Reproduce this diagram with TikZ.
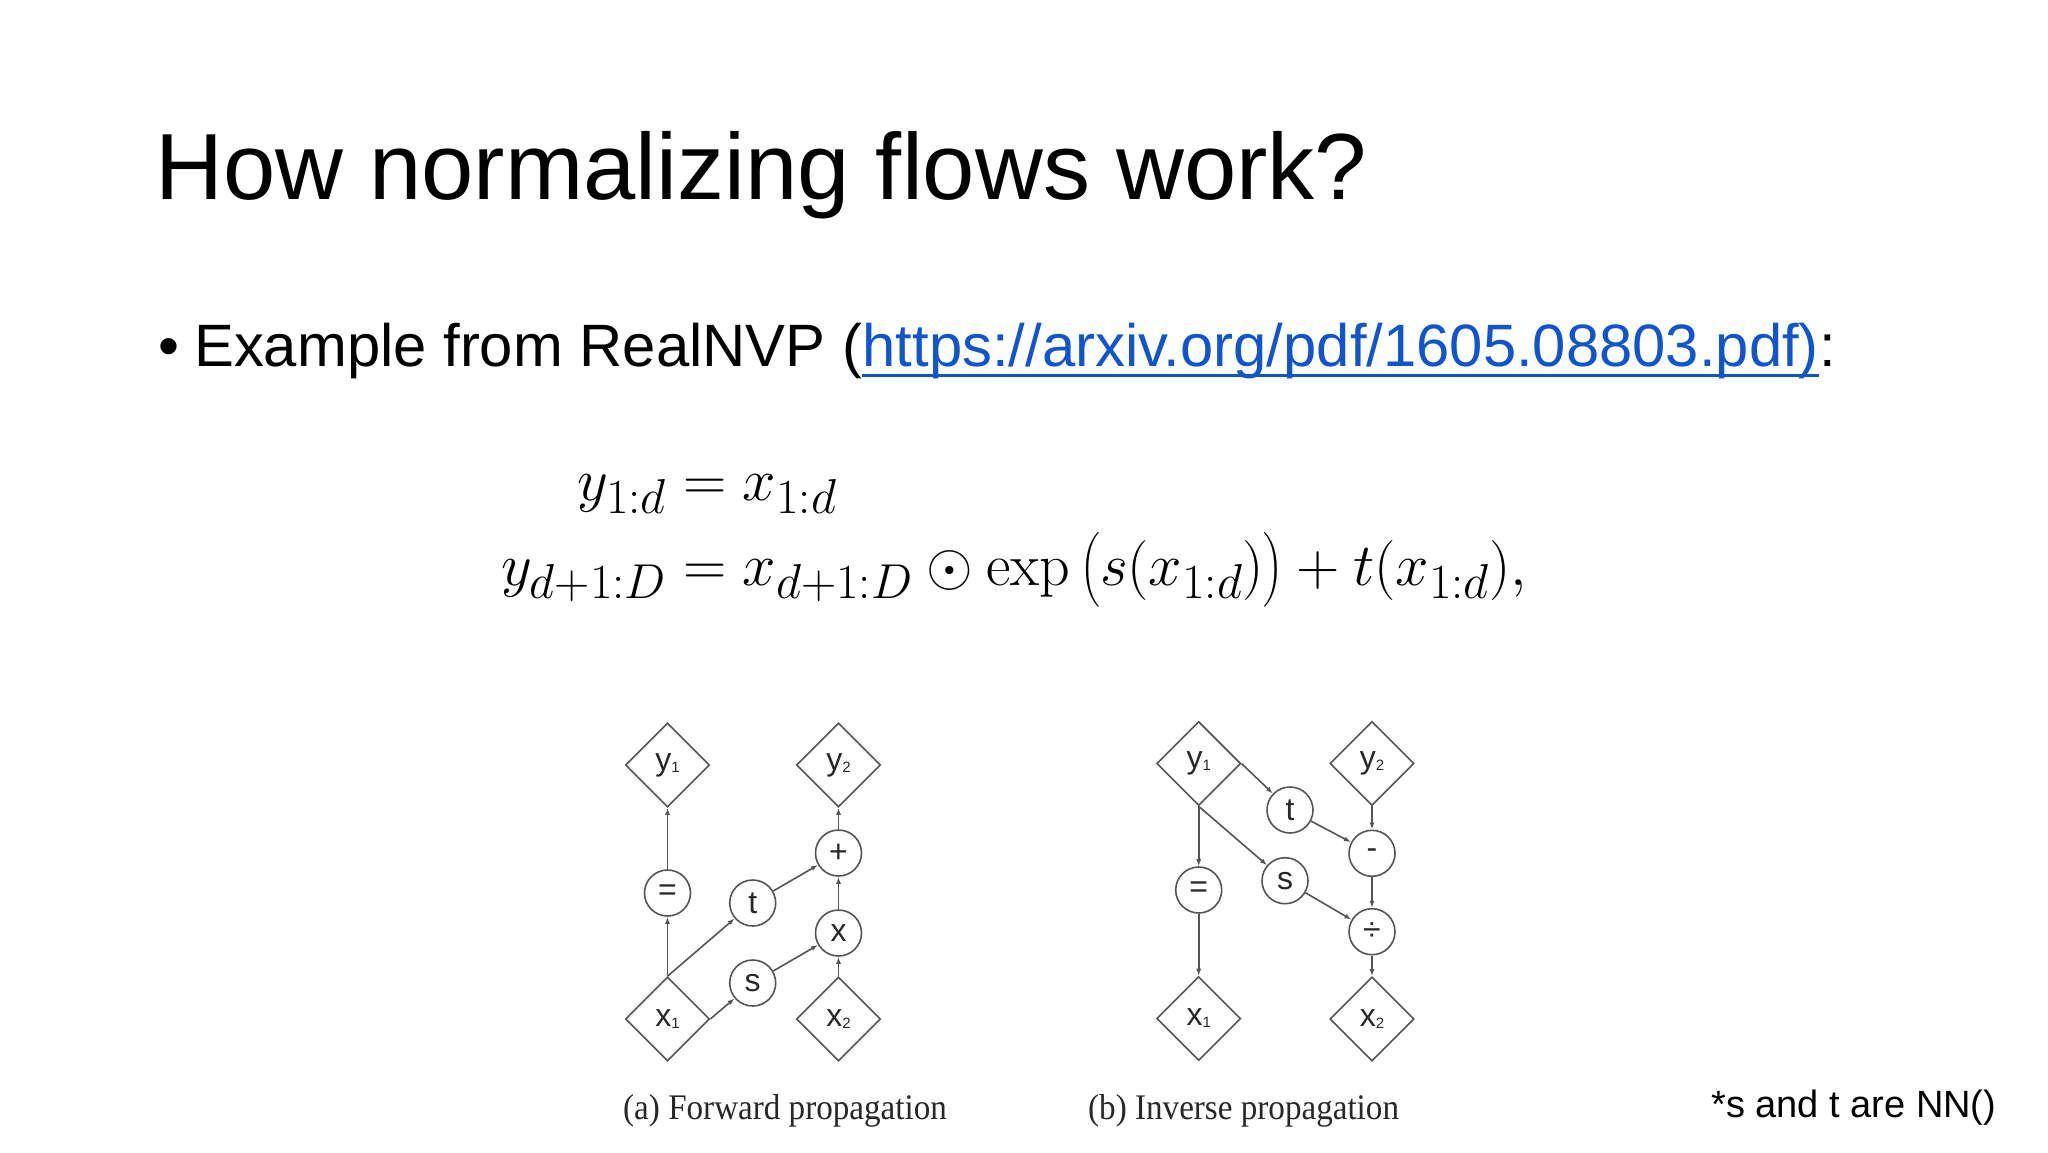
\RequirePackage{fix-cm}
\documentclass[tikz,border=0pt]{standalone}
\usepackage{amsmath}
\usepackage[no-math]{fontspec}
\setmainfont{Liberation Sans}
\newfontfamily\capfont{Liberation Serif}
\usetikzlibrary{shapes.geometric,arrows.meta}
\definecolor{linkblue}{RGB}{17,85,204}
\definecolor{diagline}{RGB}{85,85,85}
\definecolor{diagtext}{RGB}{40,40,40}
\DeclareMathSizes{60}{60}{49}{38}
\newcommand\lsub[1]{\raisebox{-2pt}{\fontsize{15}{15}\selectfont #1}}
\begin{document}
\begin{tikzpicture}[x=1pt,y=-1pt,
  dnode/.style={diamond, draw=diagline, line width=1.6pt, minimum width=84pt, minimum height=84pt, inner sep=0pt, text=diagtext, font=\fontsize{32}{32}\selectfont},
  cnode/.style={circle, draw=diagline, line width=1.6pt, minimum size=46pt, inner sep=0pt, text=diagtext, font=\fontsize{32}{32}\selectfont},
  edge/.style={draw=diagline, line width=1.6pt, -{Latex[length=7pt,width=5pt]}},
  txt/.style={inner sep=0pt, anchor=base west},
  mathtxt/.style={txt, font=\fontsize{60}{70}\selectfont}
]
\useasboundingbox (0,0) rectangle (2048,1152);
\fill[white] (0,0) rectangle (2048,1152);

% title
\node[txt, font=\fontsize{94}{100}\selectfont] (title) at (155,199) {How normalizing flows work?};

% bullet line
\node[txt, font=\fontsize{59.8}{70}\selectfont] (bul) at (158,366) {\textbullet};
\node[txt, font=\fontsize{59.8}{70}\selectfont] (pre) at (194,366) {Example from RealNVP (};
\node[txt, font=\fontsize{59.8}{70}\selectfont, text=linkblue] (link) at (pre.base east) {https://arxiv.org/pdf/1605.08803.pdf)};
\node[txt, font=\fontsize{59.8}{70}\selectfont] (colon) at (link.base east) {:};
\draw[linkblue, line width=3pt] ([yshift=-9pt]link.base west) -- ([yshift=-9pt]link.base east);

% equations
\node[mathtxt] (eq2) at (501,585) {$y_{d+1:D} = x_{d+1:D}\odot\exp\big(s(x_{1:d})\big)+t(x_{1:d}),$};
\node[mathtxt] (eq1) at (501,500) {$\hphantom{y_{d+1:D}}\llap{$y_{1:d}$} = x_{1:d}$};

% diagram (a)
\node[dnode] (y1A) at (667.5,765) {y\lsub{1}};
\node[dnode] (y2A) at (838.5,765) {y\lsub{2}};
\node[dnode] (x1A) at (667.5,1019) {x\lsub{1}};
\node[dnode] (x2A) at (838.5,1019) {x\lsub{2}};
\node[cnode] (eqA) at (667.5,893) {=};
\node[cnode] (tA) at (752.7,903) {t};
\node[cnode] (sA) at (752.7,983) {s};
\node[cnode] (plusA) at (838.5,853) {+};
\node[cnode] (mulA) at (838.5,933) {x};
\draw[edge] (x1A.north) -- (eqA);
\draw[edge] (eqA) -- (y1A.south);
\draw[edge] (x1A.north) -- (tA);
\draw[edge] (x1A.east) -- (sA);
\draw[edge] (sA) -- (mulA);
\draw[edge] (tA) -- (plusA);
\draw[edge] (x2A.north) -- (mulA);
\draw[edge] (mulA) -- (plusA);
\draw[edge] (plusA) -- (y2A.south);

% diagram (b)
\node[dnode] (y1B) at (1198.7,763.5) {y\lsub{1}};
\node[dnode] (y2B) at (1372,763.5) {y\lsub{2}};
\node[dnode] (x1B) at (1198.7,1018.5) {x\lsub{1}};
\node[dnode] (x2B) at (1372,1019) {x\lsub{2}};
\node[cnode] (eqB) at (1198.7,890) {=};
\node[cnode] (tB) at (1290,810) {t};
\node[cnode] (sB) at (1285,880.7) {s};
\node[cnode] (minusB) at (1372,853.3) {-};
\node[cnode] (divB) at (1372,931.7) {÷};
\draw[edge] (y1B.east) -- (tB);
\draw[edge] (y1B.south) -- (sB);
\draw[edge] (y1B.south) -- (eqB);
\draw[edge] (eqB) -- (x1B.north);
\draw[edge] (tB) -- (minusB);
\draw[edge] (sB) -- (divB);
\draw[edge] (y2B.south) -- (minusB);
\draw[edge] (minusB) -- (divB);
\draw[edge] (divB) -- (x2B.north);

% captions
\node[txt, font=\capfont\fontsize{36}{40}\selectfont, text=diagtext] (capA) at (623,1119) {\scalebox{0.92}[1]{(a) Forward propagation}};
\node[txt, font=\capfont\fontsize{36}{40}\selectfont, text=diagtext] (capB) at (1088,1119) {\scalebox{0.92}[1]{(b) Inverse propagation}};

% note
\node[txt, font=\fontsize{38}{44}\selectfont] (note) at (1711,1117) {*s and t are NN()};
\end{tikzpicture}
\end{document}
